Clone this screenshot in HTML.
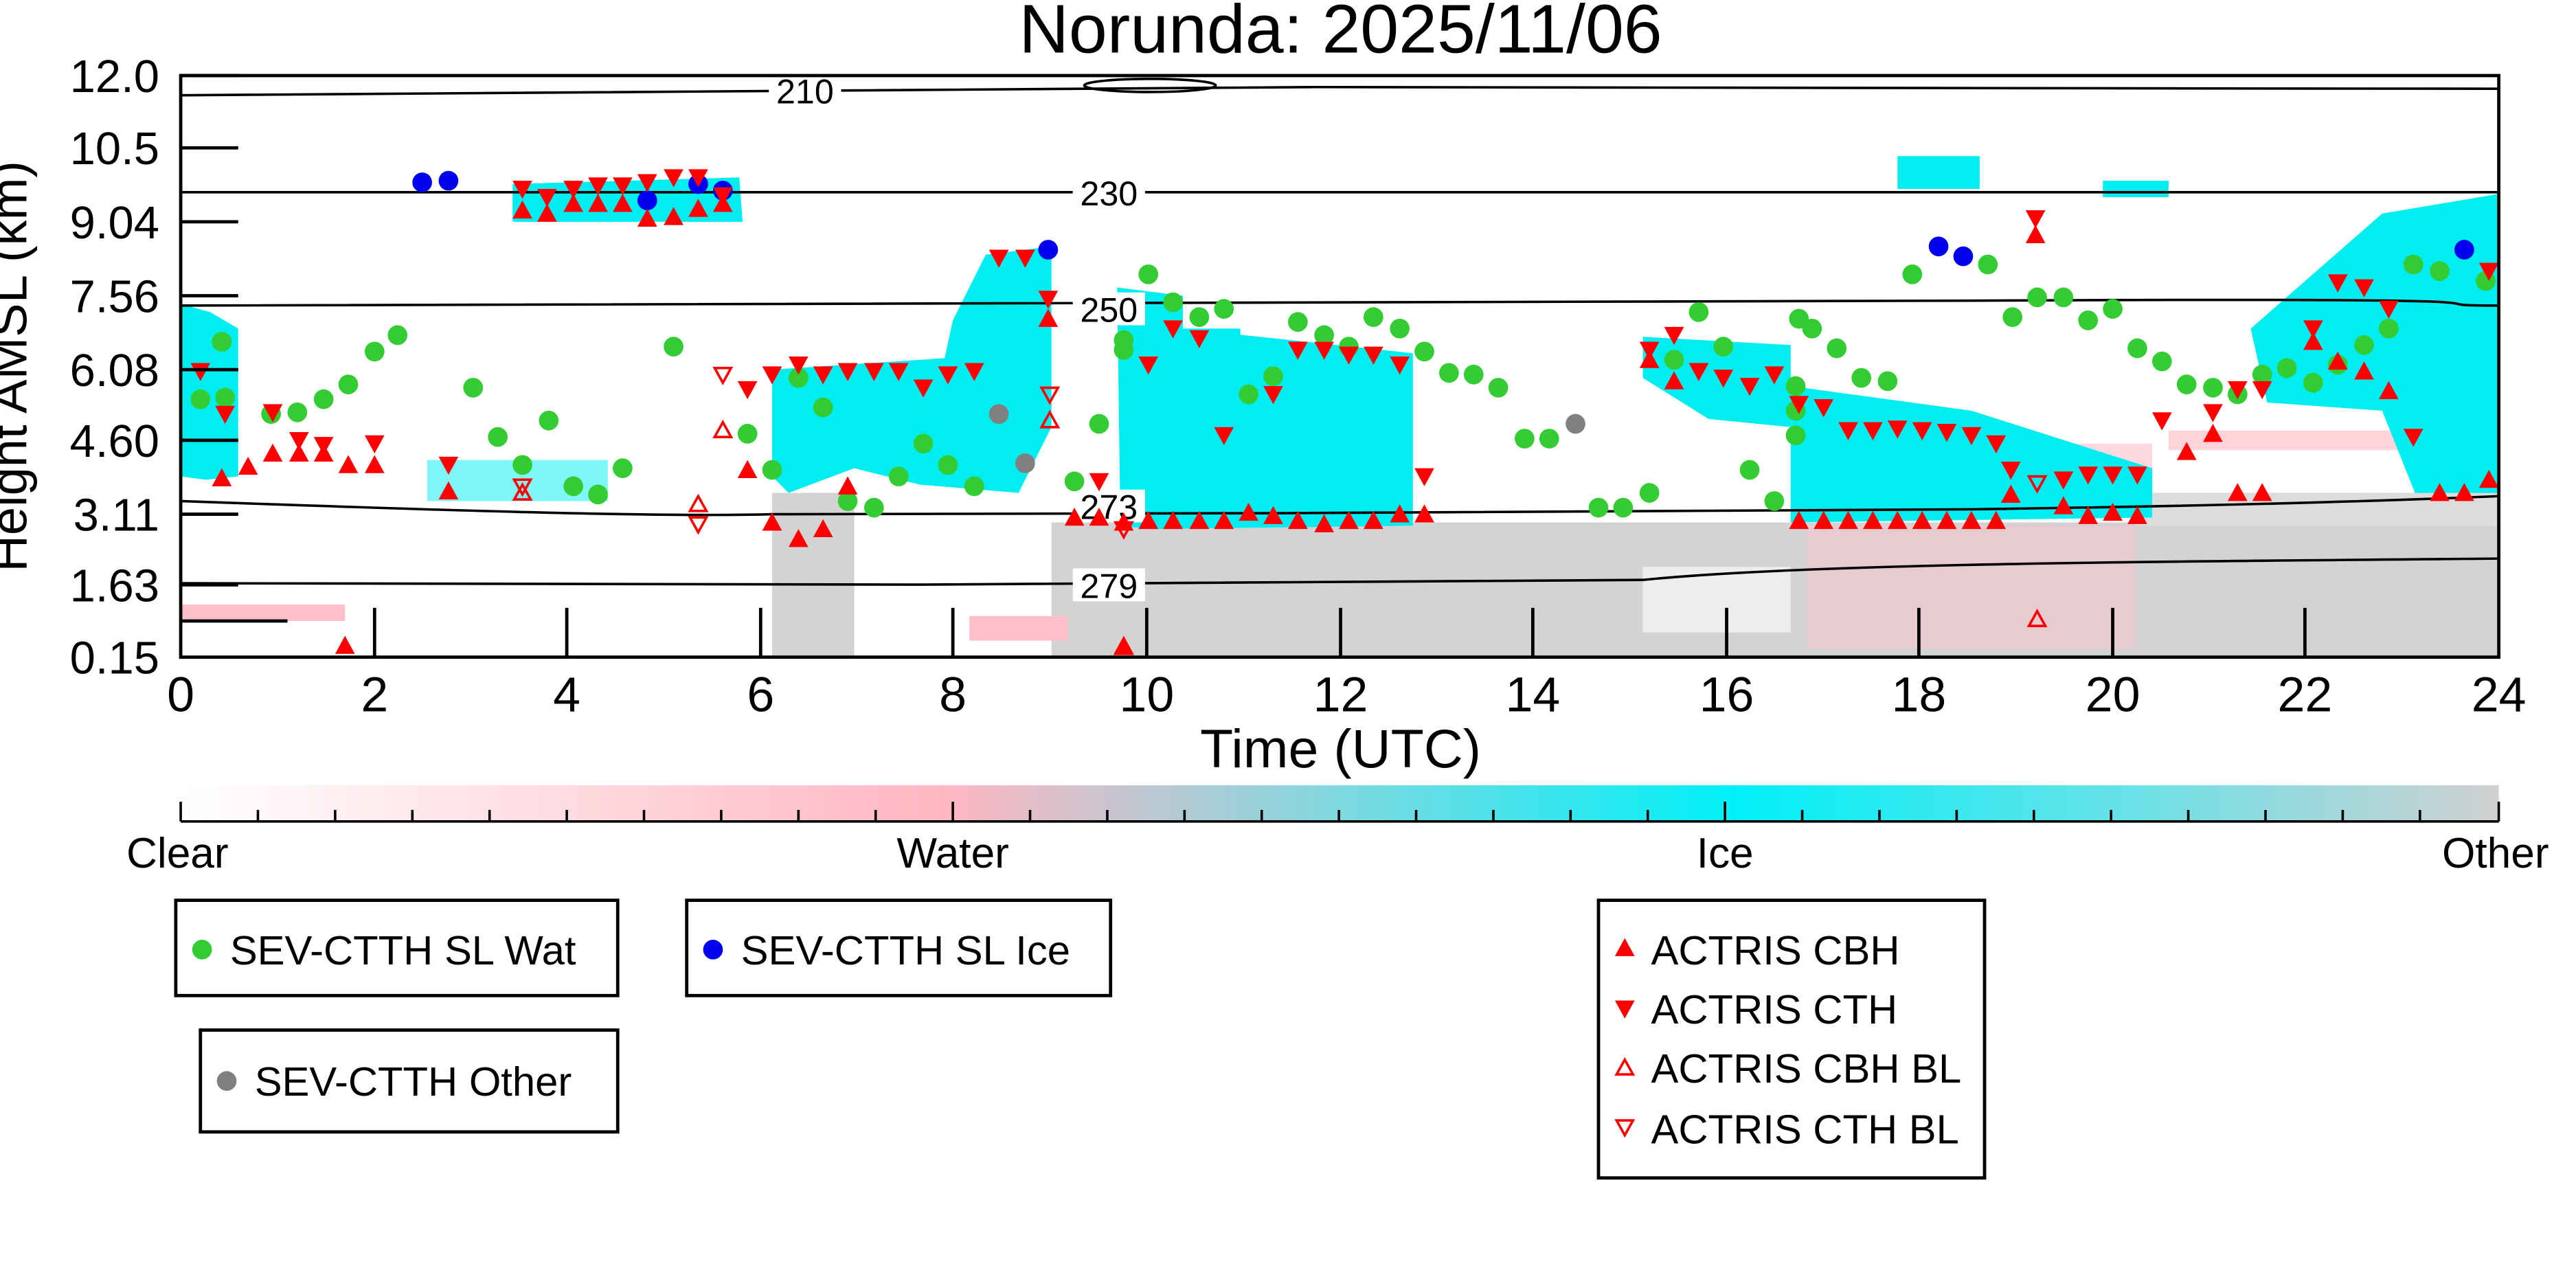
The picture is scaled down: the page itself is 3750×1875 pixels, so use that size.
<!DOCTYPE html>
<html><head><meta charset="utf-8"><style>
html,body{margin:0;padding:0;background:#fff;}
svg{display:block;width:3750px;height:1875px;font-family:"Liberation Sans","DejaVu Sans",sans-serif;}
</style></head><body>
<svg viewBox="0 0 1568 784" xmlns="http://www.w3.org/2000/svg">
<defs>
<linearGradient id="cb" x1="0" x2="1" y1="0" y2="0">
<stop offset="0" stop-color="#ffffff"/><stop offset="0.33" stop-color="#ffb6c1"/>
<stop offset="0.5" stop-color="#7fd8e0"/><stop offset="0.67" stop-color="#00f0f8"/>
<stop offset="0.85" stop-color="#6fe0e6"/><stop offset="1" stop-color="#d0d0d0"/></linearGradient>
<g id="g"><circle r="6" fill="#33cc33"/></g>
<g id="b"><circle r="6" fill="#0000ee"/></g>
<g id="k"><circle r="6" fill="#808080"/></g>
<g id="u"><polygon points="0,-6 6,5 -6,5" fill="#f00"/></g>
<g id="d"><polygon points="0,6 6,-5 -6,-5" fill="#f00"/></g>
<g id="uo"><polygon points="0,-5 5,4 -5,4" fill="none" stroke="#f00" stroke-width="1.5"/></g>
<g id="do"><polygon points="0,5 5,-4 -5,-4" fill="none" stroke="#f00" stroke-width="1.5"/></g>
</defs>
<text x="816" y="32" font-size="42" text-anchor="middle">Norunda: 2025/11/06</text>
<g>
<rect x="470" y="300" width="50" height="100" fill="#d3d3d3"/>
<rect x="640" y="318" width="881" height="82" fill="#d3d3d3"/>
<rect x="1000" y="345" width="90" height="40" fill="#fff" opacity="0.6"/>
<rect x="1300" y="300" width="221" height="20" fill="#dcdcdc"/>
<rect x="1100" y="320" width="200" height="75" fill="#ffc0cb" opacity="0.45"/>
<rect x="110" y="368" width="100" height="10" fill="#ffc0cb"/>
<rect x="590" y="375" width="60" height="15" fill="#ffc0cb"/>
<rect x="1320" y="262" width="180" height="12" fill="#ffc0cb" opacity="0.7"/>
<rect x="1230" y="270" width="80" height="30" fill="#ffc0cb" opacity="0.6"/>
<polygon points="110,185 128,190 145,200 145,290 125,292 110,290" fill="#00eef0"/>
<polygon points="312,112 450,108 452,135 312,135" fill="#00eef0"/>
<polygon points="470,225 575,218 580,195 600,155 640,150 640,260 620,300 560,295 520,285 480,300 470,290" fill="#00eef0"/>
<polygon points="680,175 720,180 720,200 860,215 860,320 700,322 682,320" fill="#00eef0"/>
<rect x="720" y="200" width="35" height="90" fill="#00eef0"/>
<polygon points="1000,205 1090,210 1090,260 1040,255 1000,230" fill="#00eef0"/>
<polygon points="1090,235 1200,250 1310,285 1310,315 1090,318" fill="#00eef0"/>
<polygon points="1370,200 1450,130 1521,118 1521,300 1470,300 1450,250 1380,245" fill="#00eef0"/>
<rect x="1155" y="95" width="50" height="20" fill="#00eef0"/>
<rect x="1280" y="110" width="40" height="10" fill="#00eef0"/>
<rect x="260" y="280" width="110" height="25" fill="#00eef0" opacity="0.5"/>
</g>
<g fill="none" stroke="#000" stroke-width="1.5">
<path d="M110,58 C300,56 500,53 800,53 S1300,54 1521,54"/>
<path d="M110,117 L1521,117"/>
<path d="M110,186 C400,182 800,185 1200,183 S1450,186 1521,186"/>
<path d="M110,305 C250,310 400,315 470,313 C700,312 1000,313 1200,310 C1350,308 1450,305 1521,302"/>
<path d="M110,355 C300,357 800,356 1000,353 C1100,343 1300,342 1521,340"/>
<ellipse cx="700" cy="52" rx="40" ry="4"/>
</g>
<g font-size="21" text-anchor="middle">
<rect x="468" y="45" width="44" height="20" fill="#fff"/><text x="490" y="63">210</text>
<rect x="653" y="108" width="44" height="20" fill="#fff"/><text x="675" y="125">230</text>
<rect x="653" y="178" width="44" height="20" fill="#fff"/><text x="675" y="196">250</text>
<rect x="653" y="298" width="44" height="20" fill="#fff"/><text x="675" y="316">273</text>
<rect x="653" y="346" width="44" height="20" fill="#fff"/><text x="675" y="364">279</text>
</g>
<g>
<use href="#g" x="135" y="208"/><use href="#g" x="122" y="243"/><use href="#g" x="137" y="242"/><use href="#g" x="165" y="252"/><use href="#g" x="181" y="251"/><use href="#g" x="197" y="243"/><use href="#g" x="212" y="234"/><use href="#g" x="228" y="214"/><use href="#g" x="242" y="204"/><use href="#g" x="288" y="236"/><use href="#g" x="303" y="266"/><use href="#g" x="318" y="283"/><use href="#g" x="334" y="256"/><use href="#g" x="349" y="296"/><use href="#g" x="364" y="301"/><use href="#g" x="379" y="285"/><use href="#g" x="410" y="211"/><use href="#g" x="455" y="264"/><use href="#g" x="470" y="286"/><use href="#g" x="486" y="230"/><use href="#g" x="501" y="248"/><use href="#g" x="516" y="305"/><use href="#g" x="532" y="309"/><use href="#g" x="547" y="290"/><use href="#g" x="562" y="270"/><use href="#g" x="577" y="283"/><use href="#g" x="593" y="296"/><use href="#g" x="654" y="293"/><use href="#g" x="669" y="258"/><use href="#g" x="684" y="207"/><use href="#g" x="699" y="167"/><use href="#g" x="714" y="184"/><use href="#g" x="730" y="193"/><use href="#g" x="745" y="188"/><use href="#g" x="760" y="240"/><use href="#g" x="775" y="229"/><use href="#g" x="790" y="196"/><use href="#g" x="806" y="204"/><use href="#g" x="821" y="211"/><use href="#g" x="836" y="193"/><use href="#g" x="852" y="200"/><use href="#g" x="867" y="214"/><use href="#g" x="882" y="227"/><use href="#g" x="897" y="228"/><use href="#g" x="912" y="236"/><use href="#g" x="928" y="267"/><use href="#g" x="943" y="267"/><use href="#g" x="973" y="309"/><use href="#g" x="988" y="309"/><use href="#g" x="1004" y="300"/><use href="#g" x="1019" y="219"/><use href="#g" x="1034" y="190"/><use href="#g" x="1049" y="211"/><use href="#g" x="1065" y="286"/><use href="#g" x="1080" y="305"/><use href="#g" x="1095" y="194"/><use href="#g" x="1103" y="200"/><use href="#g" x="1118" y="212"/><use href="#g" x="1133" y="230"/><use href="#g" x="1149" y="232"/><use href="#g" x="1164" y="167"/><use href="#g" x="1210" y="161"/><use href="#g" x="1225" y="193"/><use href="#g" x="1240" y="181"/><use href="#g" x="1256" y="181"/><use href="#g" x="1271" y="195"/><use href="#g" x="1286" y="188"/><use href="#g" x="1301" y="212"/><use href="#g" x="1316" y="220"/><use href="#g" x="1331" y="234"/><use href="#g" x="1347" y="236"/><use href="#g" x="1362" y="240"/><use href="#g" x="1377" y="228"/><use href="#g" x="1392" y="224"/><use href="#g" x="1408" y="233"/><use href="#g" x="1423" y="222"/><use href="#g" x="1439" y="210"/><use href="#g" x="1454" y="200"/><use href="#g" x="1469" y="161"/><use href="#g" x="1485" y="165"/><use href="#g" x="1513" y="171"/><use href="#g" x="1093" y="235"/><use href="#g" x="1093" y="250"/><use href="#g" x="1093" y="265"/><use href="#g" x="684" y="213"/>
<use href="#b" x="257" y="111"/><use href="#b" x="273" y="110"/><use href="#b" x="394" y="122"/><use href="#b" x="425" y="112"/><use href="#b" x="440" y="116"/><use href="#b" x="638" y="152"/><use href="#b" x="1180" y="150"/><use href="#b" x="1195" y="156"/><use href="#b" x="1500" y="152"/>
<use href="#k" x="608" y="252"/><use href="#k" x="624" y="282"/><use href="#k" x="959" y="258"/>
<use href="#u" x="135" y="291"/><use href="#u" x="151" y="284"/><use href="#u" x="166" y="276"/><use href="#u" x="182" y="276"/><use href="#u" x="197" y="276"/><use href="#u" x="212" y="283"/><use href="#u" x="228" y="283"/><use href="#u" x="273" y="299"/><use href="#u" x="455" y="286"/><use href="#u" x="470" y="318"/><use href="#u" x="486" y="328"/><use href="#u" x="501" y="322"/><use href="#u" x="516" y="296"/><use href="#u" x="638" y="194"/><use href="#u" x="654" y="315"/><use href="#u" x="669" y="315"/><use href="#u" x="684" y="318"/><use href="#u" x="699" y="317"/><use href="#u" x="714" y="317"/><use href="#u" x="730" y="317"/><use href="#u" x="745" y="317"/><use href="#u" x="760" y="312"/><use href="#u" x="775" y="314"/><use href="#u" x="790" y="317"/><use href="#u" x="806" y="319"/><use href="#u" x="821" y="317"/><use href="#u" x="836" y="317"/><use href="#u" x="852" y="313"/><use href="#u" x="867" y="313"/><use href="#u" x="1004" y="219"/><use href="#u" x="1019" y="232"/><use href="#u" x="1095" y="317"/><use href="#u" x="1110" y="317"/><use href="#u" x="1125" y="317"/><use href="#u" x="1140" y="317"/><use href="#u" x="1155" y="317"/><use href="#u" x="1170" y="317"/><use href="#u" x="1185" y="317"/><use href="#u" x="1200" y="317"/><use href="#u" x="1215" y="317"/><use href="#u" x="1224" y="301"/><use href="#u" x="1256" y="308"/><use href="#u" x="1271" y="314"/><use href="#u" x="1286" y="312"/><use href="#u" x="1301" y="314"/><use href="#u" x="1239" y="143"/><use href="#u" x="1331" y="275"/><use href="#u" x="1347" y="264"/><use href="#u" x="1362" y="300"/><use href="#u" x="1377" y="300"/><use href="#u" x="1408" y="208"/><use href="#u" x="1423" y="220"/><use href="#u" x="1439" y="226"/><use href="#u" x="1454" y="238"/><use href="#u" x="1485" y="300"/><use href="#u" x="1500" y="300"/><use href="#u" x="1515" y="292"/><use href="#u" x="318" y="128"/><use href="#u" x="333" y="130"/><use href="#u" x="349" y="124"/><use href="#u" x="364" y="124"/><use href="#u" x="379" y="124"/><use href="#u" x="394" y="133"/><use href="#u" x="410" y="132"/><use href="#u" x="425" y="127"/><use href="#u" x="440" y="124"/><use href="#u" x="210" y="393"/><use href="#u" x="684" y="393"/>
<use href="#d" x="122" y="226"/><use href="#d" x="137" y="252"/><use href="#d" x="166" y="251"/><use href="#d" x="182" y="268"/><use href="#d" x="197" y="271"/><use href="#d" x="228" y="270"/><use href="#d" x="273" y="283"/><use href="#d" x="318" y="115"/><use href="#d" x="333" y="120"/><use href="#d" x="349" y="115"/><use href="#d" x="364" y="113"/><use href="#d" x="379" y="113"/><use href="#d" x="394" y="111"/><use href="#d" x="410" y="108"/><use href="#d" x="425" y="108"/><use href="#d" x="440" y="119"/><use href="#d" x="455" y="237"/><use href="#d" x="470" y="228"/><use href="#d" x="486" y="222"/><use href="#d" x="501" y="228"/><use href="#d" x="516" y="226"/><use href="#d" x="532" y="226"/><use href="#d" x="547" y="226"/><use href="#d" x="562" y="236"/><use href="#d" x="577" y="228"/><use href="#d" x="593" y="226"/><use href="#d" x="608" y="157"/><use href="#d" x="624" y="157"/><use href="#d" x="638" y="182"/><use href="#d" x="669" y="293"/><use href="#d" x="699" y="222"/><use href="#d" x="714" y="200"/><use href="#d" x="730" y="206"/><use href="#d" x="745" y="265"/><use href="#d" x="775" y="240"/><use href="#d" x="790" y="213"/><use href="#d" x="806" y="213"/><use href="#d" x="821" y="216"/><use href="#d" x="836" y="216"/><use href="#d" x="852" y="222"/><use href="#d" x="867" y="290"/><use href="#d" x="1004" y="213"/><use href="#d" x="1019" y="204"/><use href="#d" x="1034" y="226"/><use href="#d" x="1049" y="230"/><use href="#d" x="1065" y="235"/><use href="#d" x="1080" y="228"/><use href="#d" x="1095" y="246"/><use href="#d" x="1110" y="248"/><use href="#d" x="1125" y="262"/><use href="#d" x="1140" y="262"/><use href="#d" x="1155" y="261"/><use href="#d" x="1170" y="262"/><use href="#d" x="1185" y="263"/><use href="#d" x="1200" y="265"/><use href="#d" x="1215" y="270"/><use href="#d" x="1224" y="286"/><use href="#d" x="1239" y="133"/><use href="#d" x="1256" y="292"/><use href="#d" x="1271" y="289"/><use href="#d" x="1286" y="289"/><use href="#d" x="1301" y="289"/><use href="#d" x="1316" y="256"/><use href="#d" x="1347" y="251"/><use href="#d" x="1362" y="237"/><use href="#d" x="1377" y="237"/><use href="#d" x="1408" y="200"/><use href="#d" x="1423" y="172"/><use href="#d" x="1439" y="175"/><use href="#d" x="1454" y="188"/><use href="#d" x="1469" y="266"/><use href="#d" x="1515" y="165"/>
<use href="#uo" x="440" y="262"/><use href="#uo" x="639" y="256"/><use href="#uo" x="1240" y="377"/><use href="#uo" x="318" y="300"/><use href="#uo" x="425" y="307"/><use href="#uo" x="684" y="394"/>
<use href="#do" x="440" y="228"/><use href="#do" x="639" y="240"/><use href="#do" x="684" y="322"/><use href="#do" x="1240" y="294"/><use href="#do" x="318" y="296"/><use href="#do" x="425" y="319"/>
</g>
<rect x="110" y="46" width="1411" height="354" fill="none" stroke="#000" stroke-width="2"/>
<g stroke="#000" stroke-width="2">
<line x1="110" y1="46" x2="145" y2="46"/><line x1="110" y1="90" x2="145" y2="90"/><line x1="110" y1="135" x2="145" y2="135"/><line x1="110" y1="180" x2="145" y2="180"/><line x1="110" y1="225" x2="145" y2="225"/><line x1="110" y1="268" x2="145" y2="268"/><line x1="110" y1="313" x2="145" y2="313"/><line x1="110" y1="356" x2="145" y2="356"/>
<line x1="110" y1="378" x2="175" y2="378"/>
<line x1="228" y1="400" x2="228" y2="370"/><line x1="345" y1="400" x2="345" y2="370"/><line x1="463" y1="400" x2="463" y2="370"/><line x1="580" y1="400" x2="580" y2="370"/><line x1="698" y1="400" x2="698" y2="370"/><line x1="816" y1="400" x2="816" y2="370"/><line x1="933" y1="400" x2="933" y2="370"/><line x1="1051" y1="400" x2="1051" y2="370"/><line x1="1168" y1="400" x2="1168" y2="370"/><line x1="1286" y1="400" x2="1286" y2="370"/><line x1="1403" y1="400" x2="1403" y2="370"/>
</g>
<g font-size="28" text-anchor="end">
<text x="97" y="56">12.0</text><text x="97" y="100">10.5</text><text x="97" y="145">9.04</text><text x="97" y="190">7.56</text><text x="97" y="235">6.08</text><text x="97" y="278">4.60</text><text x="97" y="323">3.11</text><text x="97" y="366">1.63</text><text x="97" y="410">0.15</text>
</g>
<text transform="translate(16,223) rotate(-90)" font-size="31" text-anchor="middle">Height AMSL (km)</text>
<g font-size="30" text-anchor="middle">
<text x="110" y="433">0</text><text x="228" y="433">2</text><text x="345" y="433">4</text><text x="463" y="433">6</text><text x="580" y="433">8</text><text x="698" y="433">10</text><text x="816" y="433">12</text><text x="933" y="433">14</text><text x="1051" y="433">16</text><text x="1168" y="433">18</text><text x="1286" y="433">20</text><text x="1403" y="433">22</text><text x="1521" y="433">24</text>
<text x="816" y="467" font-size="33">Time (UTC)</text>
</g>
<rect x="110" y="478" width="1411" height="22" fill="url(#cb)"/>
<line x1="110" y1="500" x2="1521" y2="500" stroke="#000" stroke-width="1.5"/>
<g stroke="#000" stroke-width="1.5">
<line x1="157" y1="493" x2="157" y2="500"/><line x1="204" y1="493" x2="204" y2="500"/><line x1="251" y1="493" x2="251" y2="500"/><line x1="298" y1="493" x2="298" y2="500"/><line x1="345" y1="493" x2="345" y2="500"/><line x1="392" y1="493" x2="392" y2="500"/><line x1="439" y1="493" x2="439" y2="500"/><line x1="486" y1="493" x2="486" y2="500"/><line x1="533" y1="493" x2="533" y2="500"/><line x1="627" y1="493" x2="627" y2="500"/><line x1="674" y1="493" x2="674" y2="500"/><line x1="721" y1="493" x2="721" y2="500"/><line x1="768" y1="493" x2="768" y2="500"/><line x1="815" y1="493" x2="815" y2="500"/><line x1="862" y1="493" x2="862" y2="500"/><line x1="909" y1="493" x2="909" y2="500"/><line x1="956" y1="493" x2="956" y2="500"/><line x1="1003" y1="493" x2="1003" y2="500"/><line x1="1097" y1="493" x2="1097" y2="500"/><line x1="1144" y1="493" x2="1144" y2="500"/><line x1="1191" y1="493" x2="1191" y2="500"/><line x1="1238" y1="493" x2="1238" y2="500"/><line x1="1285" y1="493" x2="1285" y2="500"/><line x1="1332" y1="493" x2="1332" y2="500"/><line x1="1379" y1="493" x2="1379" y2="500"/><line x1="1426" y1="493" x2="1426" y2="500"/><line x1="1473" y1="493" x2="1473" y2="500"/>
<line x1="110" y1="488" x2="110" y2="500"/><line x1="580" y1="488" x2="580" y2="500"/><line x1="1050" y1="488" x2="1050" y2="500"/><line x1="1521" y1="488" x2="1521" y2="500"/>
</g>
<g font-size="26" text-anchor="middle">
<text x="108" y="528">Clear</text><text x="580" y="528">Water</text><text x="1050" y="528">Ice</text><text x="1519" y="528">Other</text>
</g>
<g fill="none" stroke="#000" stroke-width="2">
<rect x="107" y="548" width="269" height="58"/><rect x="418" y="548" width="258" height="58"/>
<rect x="122" y="627" width="254" height="62"/><rect x="973" y="548" width="235" height="169"/>
</g>
<g font-size="25">
<use href="#g" x="123" y="578"/><text x="140" y="587">SEV-CTTH SL Wat</text>
<use href="#b" x="434" y="578"/><text x="451" y="587">SEV-CTTH SL Ice</text>
<use href="#k" x="138" y="658"/><text x="155" y="667">SEV-CTTH Other</text>
<use href="#u" x="989" y="577"/><text x="1005" y="587">ACTRIS CBH</text>
<use href="#d" x="989" y="614"/><text x="1005" y="623">ACTRIS CTH</text>
<use href="#uo" x="989" y="650"/><text x="1005" y="659">ACTRIS CBH BL</text>
<use href="#do" x="989" y="686"/><text x="1005" y="696">ACTRIS CTH BL</text>
</g>
</svg>
</body></html>
